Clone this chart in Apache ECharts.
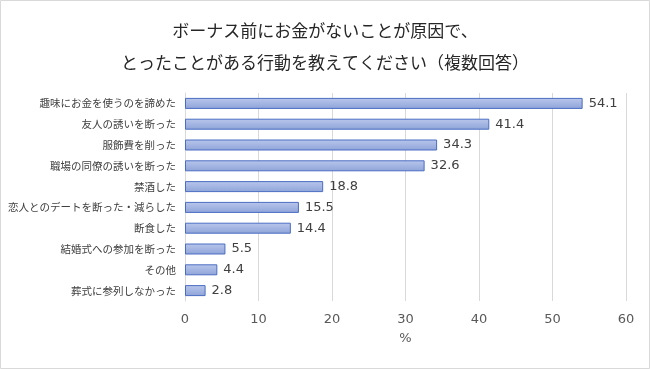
<!DOCTYPE html>
<html><head><meta charset="utf-8">
<script src="https://cdn.jsdelivr.net/npm/echarts@6/dist/echarts.min.js"></script>
<style>html,body{margin:0;padding:0;background:#fff}#c{width:650px;height:369px}</style>
</head><body><div id="c"></div>
<script>
const titleLines = ['ボーナス前にお金がないことが原因で、', 'とったことがある行動を教えてください（複数回答）'];
const categories = ['趣味にお金を使うのを諦めた','友人の誘いを断った','服飾費を削った','職場の同僚の誘いを断った','禁酒した','恋人とのデートを断った・減らした','断食した','結婚式への参加を断った','その他','葬式に参列しなかった'];
const values = [54.1, 41.4, 34.3, 32.6, 18.8, 15.5, 14.4, 5.5, 4.4, 2.8];
const axisName = '%';

const chart = echarts.init(document.getElementById('c'), null, {renderer:'canvas'});
const jp = "'Noto Sans CJK JP', sans-serif";
const num = "'DejaVu Sans', 'Noto Sans CJK JP', sans-serif";
chart.setOption({
  backgroundColor: '#fff',
  animation: false,
  title: {
    text: titleLines.join('\n'),
    left: 'center', top: 10,
    textStyle: {fontFamily: jp, fontSize: 17, fontWeight: 'normal', color: '#262626', lineHeight: 32}
  },
  graphic: [{type:'rect', shape:{x:0.5,y:0.5,width:649,height:368}, style:{fill:'none', stroke:'#d9d9d9', lineWidth:1}, silent:true}],
  grid: {left: 185, right: 24, top: 93, bottom: 68, containLabel: false, outerBoundsMode: 'none'},
  xAxis: {
    type: 'value', min: 0, max: 60, interval: 10,
    name: axisName, nameLocation: 'middle', nameGap: 31,
    nameTextStyle: {fontFamily: num, fontSize: 13, color: '#595959'},
    axisLine: {show: false}, axisTick: {show: false},
    axisLabel: {fontFamily: num, fontSize: 13, color: '#595959', margin: 12},
    splitLine: {lineStyle: {color: '#d9d9d9', width: 1}}
  },
  yAxis: {
    type: 'category', data: categories, inverse: true,
    axisLine: {show: true, lineStyle: {color: '#d9d9d9'}}, axisTick: {show: false},
    axisLabel: {fontFamily: jp, fontSize: 10.5, color: '#404040', margin: 9}
  },
  series: [{
    type: 'bar', data: values, barWidth: 11,
    itemStyle: {
      color: new echarts.graphic.LinearGradient(0,0,0,1,[{offset:0,color:'#b9c7ec'},{offset:1,color:'#8ea3d8'}]),
      borderColor: '#4a6dc2', borderWidth: 1
    },
    label: {show: true, position: 'right', distance: 6, fontFamily: num, fontSize: 13, color: '#404040',
      formatter: p => p.value.toFixed(1)}
  }]
});
</script></body></html>
